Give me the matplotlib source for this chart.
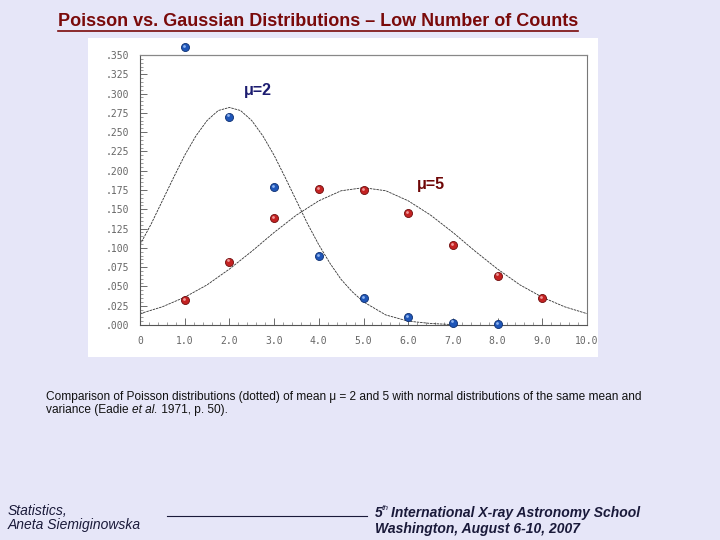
import matplotlib
matplotlib.use("Agg")
import matplotlib.pyplot as plt
import matplotlib.transforms as mtransforms
from matplotlib.patches import Rectangle
from matplotlib.ticker import MultipleLocator, FuncFormatter

plt.rcParams['font.family'] = ['Liberation Sans', 'DejaVu Sans']
plt.rcParams['mathtext.fontset'] = 'custom'
plt.rcParams['mathtext.rm'] = 'Liberation Sans'
plt.rcParams['mathtext.it'] = 'Liberation Sans:italic'
plt.rcParams['mathtext.bf'] = 'Liberation Sans:bold:italic'

# Poisson points
blue_x = [1, 2, 3, 4, 5, 6, 7, 8]
blue_y = [0.360, 0.270, 0.179, 0.089, 0.035, 0.010, 0.003, 0.001]
red_x = [1, 2, 3, 4, 5, 6, 7, 8, 9]
red_y = [0.032, 0.082, 0.139, 0.176, 0.175, 0.145, 0.104, 0.064, 0.035]

# normal curves, values
g2_x = [0, 0.25, 0.5, 0.75, 1.0, 1.25, 1.5, 1.75, 2.0, 2.25, 2.5, 2.75, 3.0,
        3.25, 3.5, 3.75, 4.0, 4.25, 4.5, 4.75, 5.0, 5.5, 6.0, 6.5, 7.0]
g2_y = [0.104, 0.131, 0.161, 0.191, 0.220, 0.245, 0.265, 0.278, 0.282, 0.278,
        0.265, 0.245, 0.220, 0.191, 0.161, 0.131, 0.104, 0.080, 0.059, 0.043,
        0.030, 0.013, 0.005, 0.002, 0.0005]
g5_x = [0, 0.5, 1.0, 1.5, 2.0, 2.5, 3.0, 3.5, 4.0, 4.5, 5.0, 5.5, 6.0, 6.5,
        7.0, 7.5, 8.0, 8.5, 9.0, 9.5, 10.0]
g5_y = [0.0147, 0.0236, 0.036, 0.052, 0.0725, 0.0955, 0.120, 0.1425, 0.161,
        0.174, 0.178, 0.174, 0.161, 0.1425, 0.120, 0.0955, 0.0725, 0.052,
        0.036, 0.0236, 0.0147]

x_labels = ["0", "1.0", "2.0", "3.0", "4.0", "5.0", "6.0", "7.0", "8.0", "9.0", "10.0"]

W, H = 720, 540
fig = plt.figure(figsize=(7.2, 5.4), dpi=100)
fig.patch.set_facecolor('#e6e6f8')

# white box of the scanned figure
fig.patches.append(Rectangle((88 / W, 1 - 357 / H), 510 / W, 319 / H,
                             transform=fig.transFigure, facecolor='white',
                             edgecolor='none', zorder=-10))

ax = fig.add_axes([140 / W, 1 - 325 / H, 447 / W, 270 / H])
ax.set_facecolor('none')
ax.set_xlim(0, 10)
ax.set_ylim(0, 0.35)

ax.plot(g2_x, g2_y, color='#333333', lw=0.6, ls=(0, (3, 1)))
ax.plot(g5_x, g5_y, color='#333333', lw=0.6, ls=(0, (3, 1)))


def balls(x, y, base, dark, light):
    ax.plot(x, y, 'o', ms=5.8, color=base, mec=dark, mew=0.6, clip_on=False, zorder=5)
    off = mtransforms.ScaledTranslation(-0.7 / 72, 0.9 / 72, fig.dpi_scale_trans)
    ax.plot(x, y, 'o', ms=2.0, color=light, mew=0, clip_on=False, zorder=6,
            transform=ax.transData + off)


balls(blue_x, blue_y, '#1f56b8', '#0e2f70', '#8fb4f0')
balls(red_x, red_y, '#c42222', '#6e0c0c', '#f09a9a')

for side in ['left', 'bottom']:
    ax.spines[side].set_color('#555555')
    ax.spines[side].set_linewidth(0.8)
ax.spines['top'].set_color('#888888')
ax.spines['top'].set_linewidth(0.9)
ax.spines['top'].set_linestyle((0, (6, 1)))
ax.spines['right'].set_color('#777777')
ax.spines['right'].set_linewidth(0.8)

ax.xaxis.set_major_locator(MultipleLocator(1))
ax.xaxis.set_minor_locator(MultipleLocator(0.2))
ax.yaxis.set_major_locator(MultipleLocator(0.025))
ax.yaxis.set_minor_locator(MultipleLocator(0.005))
ax.xaxis.set_major_formatter(FuncFormatter(lambda v, p: x_labels[int(round(v))] if 0 <= round(v) <= 10 else ""))
ax.yaxis.set_major_formatter(FuncFormatter(lambda v, p: ("%.3f" % v)[1:]))
ax.tick_params(which='major', direction='in', length=5, width=0.6, color='#555555',
               labelsize=7, labelcolor='#666666', pad=8)
ax.tick_params(which='minor', direction='in', length=2.5, width=0.5, color='#777777')
for lab in ax.get_xticklabels() + ax.get_yticklabels():
    lab.set_family('DejaVu Sans Mono')

ax.text(2.32, 0.298, 'μ=2', color='#1c1c70', fontsize=11.5, fontweight='bold')
ax.text(6.2, 0.176, 'μ=5', color='#6e0606', fontsize=11.5, fontweight='bold')

# title
fig.text(318 / W, 1 - 22 / H, 'Poisson vs. Gaussian Distributions – Low Number of Counts',
         ha='center', va='center', fontsize=13.0, fontweight='bold', color='#7a0a0a')
fig.lines.append(plt.Line2D([58 / W, 578 / W], [1 - 31 / H, 1 - 31 / H],
                            transform=fig.transFigure, color='#7a0a0a', lw=1.2))

# caption
cap_size = 8.6
fig.text(46 / W, 1 - 397 / H,
         'Comparison of Poisson distributions (dotted) of mean μ = 2 and 5 with normal distributions of the same mean and',
         ha='left', va='center', fontsize=cap_size, color='#111111')
renderer = fig.canvas.get_renderer()
x0 = 46
for piece, st in [('variance (Eadie ', 'normal'), ('et al.', 'italic'), (' 1971, p. 50).', 'normal')]:
    t = fig.text(x0 / W, 1 - 410 / H, piece, ha='left', va='center',
                 fontsize=cap_size, style=st, color='#111111')
    x0 += t.get_window_extent(renderer).width

# footer
fig.text(8 / W, 1 - 511 / H, 'Statistics,', ha='left', va='center',
         fontsize=10, style='italic', color='#1a1a3a')
fig.text(8 / W, 1 - 525 / H, 'Aneta Siemiginowska', ha='left', va='center',
         fontsize=10, style='italic', color='#1a1a3a')
fig.lines.append(plt.Line2D([167 / W, 367 / W], [1 - 516 / H, 1 - 516 / H],
                            transform=fig.transFigure, color='#1a1a3a', lw=0.8))
fig.text(375 / W, 1 - 513 / H, '5', ha='left', va='center', fontsize=10,
         style='italic', fontweight='bold', color='#1a1a3a')
fig.text(382 / W, 1 - 509 / H, 'th', ha='left', va='center', fontsize=6,
         style='italic', color='#1a1a3a')
fig.text(391 / W, 1 - 513 / H, 'International X-ray Astronomy School',
         ha='left', va='center', fontsize=10, style='italic', fontweight='bold', color='#1a1a3a')
fig.text(375 / W, 1 - 529 / H, 'Washington, August 6-10, 2007', ha='left', va='center',
         fontsize=10, style='italic', fontweight='bold', color='#1a1a3a')

fig.savefig('out.png', dpi=100, facecolor=fig.get_facecolor())
